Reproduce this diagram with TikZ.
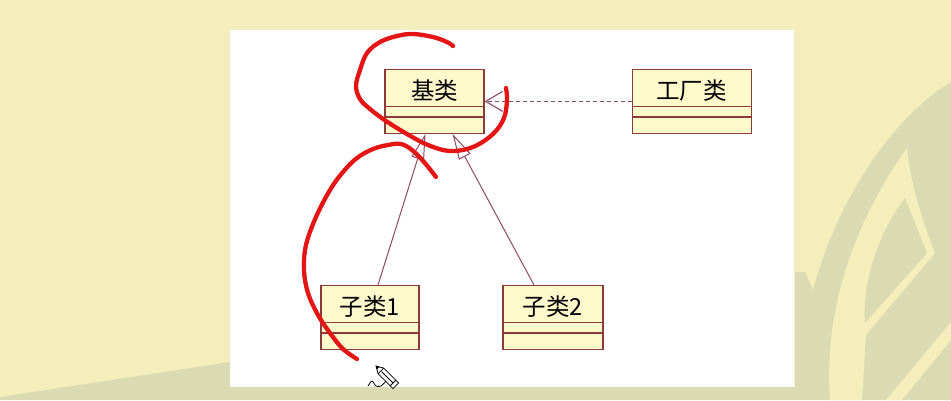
\documentclass[tikz,border=0pt]{standalone}
\usepackage{fontspec}
\newfontfamily\cjkfont{Noto Sans CJK SC}
\usepackage{tikz}
\usetikzlibrary{positioning,shapes.multipart,arrows.meta}
\definecolor{PageYellow}{HTML}{F3EEBB}
\definecolor{LeafGray}{HTML}{DCDAB3}
\definecolor{ClassFill}{HTML}{FFF9CC}
\definecolor{ClassEdge}{HTML}{8E3A3A}
\definecolor{LinkMauve}{HTML}{8F4A66}
\definecolor{InkRed}{HTML}{E31515}
\newcommand{\umlbox}[1]{\rule[-7pt]{0pt}{36pt}#1\nodepart{two}\rule{0pt}{9pt}\nodepart{three}\rule{0pt}{15pt}}

\begin{document}
\begin{tikzpicture}[x=1pt,y=-1pt,
                    every node/.style={font=\cjkfont\fontsize{23.5}{27}\selectfont},
                    cls/.style={draw=ClassEdge, fill=ClassFill, line width=1.2pt,
                                rectangle split, rectangle split parts=3,
                                inner xsep=0pt, inner ysep=0pt, anchor=north},
                    inherit/.style={draw=LinkMauve, line width=1pt,
                                    -{Triangle[fill=white, length=26pt, width=13pt]}},
                    depend/.style={draw=LinkMauve, line width=1.1pt, dash pattern=on 4pt off 3pt,
                                   -{Straight Barb[length=17pt, width=20pt]}},
                    scribble/.style={draw=InkRed, line width=4.3pt, line cap=round, line join=round}]
% slide background
\fill[PageYellow] (0,0) rectangle (951,400);
\fill[LeafGray] (951,82) .. controls (900,112) and (840,190) .. (813,290) -- (805,272) -- (795,272)
  -- (795,387) -- (230,387) -- (230,362) -- (0,397) -- (0,400) -- (951,400) -- cycle;
\fill[PageYellow] (907,148) .. controls (870,200) and (822,290) .. (830,400) -- (862,400)
  -- (866,335) -- (935,253) .. controls (920,215) and (910,180) .. (907,148) -- cycle;
\fill[LeafGray] (905,198) -- (927,253) -- (865,323) .. controls (862,280) and (880,230) .. (905,198) -- cycle;
\fill[PageYellow] (951,322) -- (951,340) -- (902,400) -- (886,400) -- cycle;
\fill[white] (230,30) rectangle (794,387);

% classes
\node[cls, minimum width=99pt] (base) at (434.5,69) {\umlbox{基类}};
\node[cls, minimum width=119pt, right=147pt of base] (factory) {\umlbox{工厂类}};
\node[cls, minimum width=98pt] (sub1) at (370,285) {\umlbox{子类1}};
\node[cls, minimum width=100pt] (sub2) at (553,285) {\umlbox{子类2}};

\draw[inherit] ([xshift=8pt]sub1.north) -- ([xshift=-9pt]base.south);
\draw[inherit] ([xshift=-19pt]sub2.north) -- ([xshift=18pt]base.south);
\draw[depend] (factory.west) -- (base.east);

% pen marks
\draw[scribble] plot[smooth, tension=0.6] coordinates {(453,46) (447,42) (433,37) (413,34) (397,36)
  (380,42) (367,53) (360,70) (356,86) (360,99) (370,109) (386,121) (407,134) (428,145)
  (450,151) (473,147) (493,134) (504,118) (507,100) (506,88)};
\draw[scribble] plot[smooth, tension=0.6] coordinates {(436,177) (424,162) (412,150) (401,144)
  (388,145) (373,149) (357,158) (343,172) (330,190) (316,217) (306,245) (304,270) (308,293)
  (318,315) (330,333) (343,349) (357,359)};

% pencil cursor
\begin{scope}[shift={(376,366)}, rotate=-45]
\draw[fill=white, line width=0.8pt] (0,0) -- (7,-4) -- (28,-4) -- (28,4) -- (7,4) -- cycle;
\fill (0,0) -- (3,-1.7) -- (3,1.7) -- cycle;
\draw[line width=0.8pt] (7,-4) -- (7,4) (24,-4) -- (24,4) (8,0) -- (24,0);
\end{scope}
\draw[line width=0.8pt] plot[smooth] coordinates {(368,386) (372,381) (376,386) (381,386) (386,381)};
\end{tikzpicture}
\end{document}
